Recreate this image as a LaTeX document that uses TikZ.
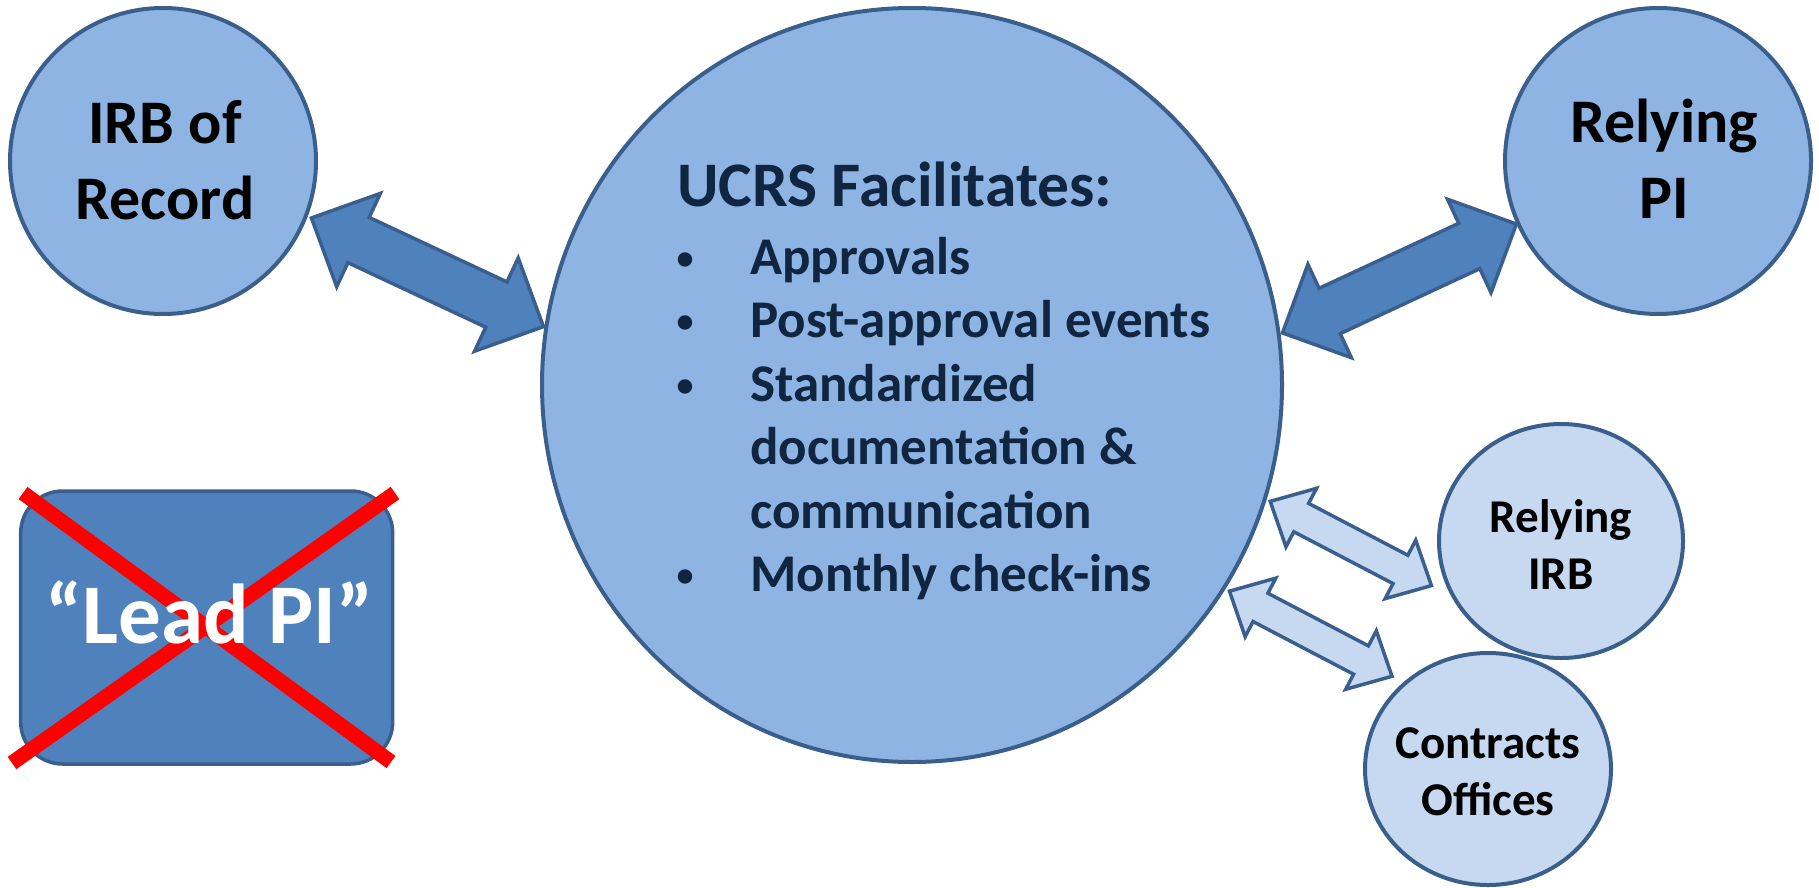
\documentclass[tikz,border=0pt]{standalone}
\usepackage{fontspec}
\setmainfont{Carlito}
\usetikzlibrary{calc,shapes.geometric}
\definecolor{ltblue}{HTML}{8EB4E3}
\definecolor{paleblue}{HTML}{C6D9F1}
\definecolor{midblue}{HTML}{4F81BD}
\definecolor{edgeblue}{HTML}{3A5F8D}
\definecolor{navy}{HTML}{10253F}
\definecolor{xred}{HTML}{FF0000}
% #1 style, #2 start, #3 end, #4 head length, #5 half head width, #6 half shaft width
\newcommand\dblarrow[6]{%
  \draw[#1] (#2) -- ($(#2)!#4!(#3)!#5!90:(#3)$) -- ($(#2)!#4!(#3)!#6!90:(#3)$)
    -- ($(#3)!#4!(#2)!#6!-90:(#2)$) -- ($(#3)!#4!(#2)!#5!-90:(#2)$) -- (#3)
    -- ($(#3)!#4!(#2)!#5!90:(#2)$) -- ($(#3)!#4!(#2)!#6!90:(#2)$)
    -- ($(#2)!#4!(#3)!#6!-90:(#3)$) -- ($(#2)!#4!(#3)!#5!-90:(#3)$) -- cycle;}
\newcommand\bul{\makebox[14pt]{\raisebox{5pt}{\fontsize{34}{34}\selectfont •}}\hspace{58pt}}
\begin{document}
\begin{tikzpicture}[x=1pt,y=-1pt,
  bigc/.style={ellipse, draw=edgeblue, fill=ltblue, line width=4pt, inner sep=0pt, outer sep=0pt},
  smallc/.style={ellipse, draw=edgeblue, fill=paleblue, line width=4pt, inner sep=0pt, outer sep=0pt},
  lbl/.style={align=center, inner sep=0pt, font=\bfseries\fontsize{62}{76}\selectfont},
  slbl/.style={align=center, inner sep=0pt, font=\bfseries\fontsize{47}{57}\selectfont},
  bigarrow/.style={fill=midblue, draw=edgeblue, line width=3.5pt, line join=miter},
  smallarrow/.style={fill=paleblue, draw=edgeblue, line width=3.5pt, line join=miter},
  redx/.style={draw=xred, line width=15pt},
  ucrsline/.style={anchor=base west, inner sep=0pt, text=navy, font=\bfseries\fontsize{53}{63}\selectfont},
  ucrstitle/.style={anchor=base west, inner sep=0pt, text=navy, font=\bfseries\fontsize{63.5}{70}\selectfont}
]
\useasboundingbox (0,0) rectangle (1819,888);

% circles
\node[bigc, minimum width=306, minimum height=306] (irb) at (163,161) {};
\node[bigc, minimum width=740, minimum height=754] (ucrs) at (912,385) {};
\node[bigc, minimum width=306, minimum height=306] (rpi) at (1658,161) {};
\node[smallc, minimum width=244, minimum height=234] (rirb) at (1561,541) {};
\node[smallc, minimum width=246, minimum height=232] (co) at (1488,769) {};

% labels
\node[lbl] (irbt) at (165,160) {IRB of\\Record};
\node[lbl] (rpit) at (1664,159) {Relying\\PI};
\node[slbl] (rirbt) at (1561,545) {Relying\\IRB};
\node[slbl] (cot) at (1488,772) {Contracts\\Offices};

% UCRS text
\node[ucrstitle] (t0) at (677,206) {UCRS Facilitates:};
\node[ucrsline] (t1) at (678,274) {\bul Approvals};
\node[ucrsline] (t2) at (678,337.5) {\bul Post-approval events};
\node[ucrsline] (t3) at (678,401) {\bul Standardized};
\node[ucrsline] (t4) at (750,464.5) {documentation \&};
\node[ucrsline] (t5) at (750,528) {communication};
\node[ucrsline] (t6) at (678,591.5) {\bul Monthly check-ins};

% Lead PI box, cross, text
\node[draw=edgeblue, fill=midblue, line width=3.5pt, rounded corners=42pt,
      minimum width=372, minimum height=273, inner sep=0pt] (lead) at (206.7,627.5) {};
\coordinate (x1a) at (23,493);
\coordinate (x1b) at (391,762);
\coordinate (x2a) at (395,493);
\coordinate (x2b) at (12,763);
\draw[redx] (x1a) -- (x1b);
\draw[redx] (x2a) -- (x2b);
\node[inner sep=0pt, anchor=base, text=white, font=\bfseries\fontsize{85}{100}\selectfont] (leadt) at (209.5,643) {“Lead PI”};

% arrow end points
\coordinate (a1s) at ($(irb.-21.7)!-6pt!(irb.center)$);
\coordinate (a1e) at ($(ucrs.171.5)!-3pt!(ucrs.center)$);
\coordinate (a2s) at ($(ucrs.8.9)!-4pt!(ucrs.center)$);
\coordinate (a2e) at ($(rpi.204.4)!-2pt!(rpi.center)$);
\coordinate (a3s) at ($(ucrs.-18.7)!-6pt!(ucrs.center)$);
\coordinate (a3e) at ($(rirb.199.6)!-15.6pt!(rirb.center)$);
\coordinate (a4s) at ($(ucrs.-33.7)!-6.5pt!(ucrs.center)$);
\coordinate (a4e) at ($(co.136.5)!-14pt!(co.center)$);

\dblarrow{bigarrow}{a1s}{a1e}{52pt}{51.5pt}{25pt}
\dblarrow{bigarrow}{a2s}{a2e}{52pt}{51.5pt}{25pt}
\dblarrow{smallarrow}{a3s}{a3e}{35pt}{33pt}{16pt}
\dblarrow{smallarrow}{a4s}{a4e}{35pt}{33pt}{16pt}
\end{tikzpicture}
\end{document}
